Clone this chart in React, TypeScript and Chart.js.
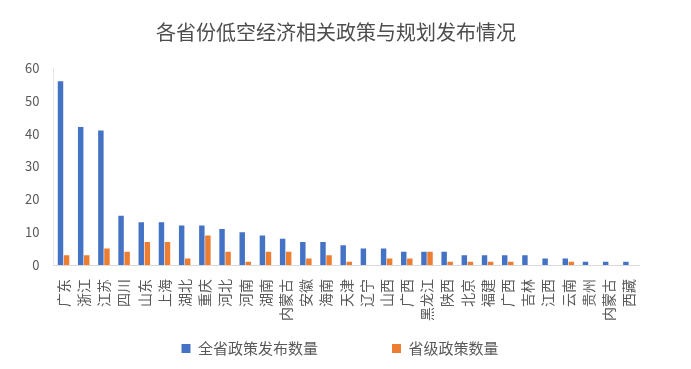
import React, { useEffect, useRef } from "react";
import { Chart, registerables } from "chart.js";

Chart.register(...registerables);

const title = "各省份低空经济相关政策与规划发布情况";
const categories = [
  "广东", "浙江", "江苏", "四川", "山东", "上海", "湖北", "重庆", "河北", "河南",
  "湖南", "内蒙古", "安徽", "海南", "天津", "辽宁", "山西", "广西", "黑龙江", "陕西",
  "北京", "福建", "广西", "吉林", "江西", "云南", "贵州", "内蒙古", "西藏",
];
const seriesNames = ["全省政策发布数量", "省级政策数量"];
const totalPolicies = [56, 42, 41, 15, 13, 13, 12, 12, 11, 10, 9, 8, 7, 7, 6, 5, 5, 4, 4, 4, 3, 3, 3, 3, 2, 2, 1, 1, 1];
const provincialPolicies = [3, 3, 5, 4, 7, 7, 2, 9, 4, 1, 4, 4, 2, 3, 1, 0, 2, 2, 4, 1, 1, 1, 1, 0, 0, 1, 0, 0, 0];
const yTicks = [0, 10, 20, 30, 40, 50, 60];

const FONT = "'Noto Sans CJK SC', 'Noto Sans', sans-serif";
const LEGEND_GAP = "\u3000\u3000\u3000\u3000";

const shiftPlugin = {
  id: "shiftBlocks",
  afterLayout(chart: any) {
    const t = chart.titleBlock;
    if (t) { t.left += 7; t.right += 7; }
    const l = chart.legend;
    if (l) { l.left += 11; l.right += 11; }
  },
};

export default function App() {
  const ref = useRef<HTMLCanvasElement | null>(null);
  useEffect(() => {
    if (!ref.current) return;
    const chart = new Chart(ref.current, {
      type: "bar",
      data: {
        labels: categories,
        datasets: [
          { label: seriesNames[0], data: totalPolicies, backgroundColor: "#4472C4", categoryPercentage: 0.6, barPercentage: 0.9 },
          { label: seriesNames[1], data: provincialPolicies, backgroundColor: "#ED7D31", categoryPercentage: 0.6, barPercentage: 0.9 },
        ],
      },
      plugins: [shiftPlugin],
      options: {
        responsive: false,
        animation: false,
        layout: { padding: { left: 19, right: 52, top: 6, bottom: 3 } },
        plugins: {
          title: {
            display: true,
            text: title,
            color: "#4d4d4d",
            font: { family: FONT, size: 20, weight: "normal" },
            padding: { top: 14, bottom: 24 },
          },
          legend: {
            position: "bottom",
            labels: {
              color: "#595959",
              font: { family: FONT, size: 15 },
              boxWidth: 9,
              boxHeight: 9,
              padding: 14,
              generateLabels: (chart: any) => {
                const items = Chart.defaults.plugins.legend.labels.generateLabels(chart);
                items.forEach((it: any, i: number) => {
                  if (i === 0) it.text = it.text + LEGEND_GAP;
                });
                return items;
              },
            },
          },
          tooltip: { enabled: false },
        },
        scales: {
          x: {
            grid: { display: false },
            border: { color: "#d9d9d9" },
            ticks: {
              color: "#595959",
              font: { family: FONT, size: 14 },
              maxRotation: 90,
              minRotation: 90,
              autoSkip: false,
              padding: 6,
            },
          },
          y: {
            min: 0,
            max: 60,
            afterBuildTicks: (axis: any) => {
              axis.ticks = yTicks.map((v) => ({ value: v }));
            },
            grid: { display: false },
            border: { color: "#e6e6e6" },
            ticks: {
              color: "#595959",
              font: { family: FONT, size: 13 },
              padding: 6,
            },
          },
        },
      },
    });
    return () => chart.destroy();
  }, []);
  return (
    <div style={{ position: "fixed", left: 0, top: 0, width: 691, height: 369, background: "#fff" }}>
      <canvas ref={ref} width={691} height={369} />
    </div>
  );
}
